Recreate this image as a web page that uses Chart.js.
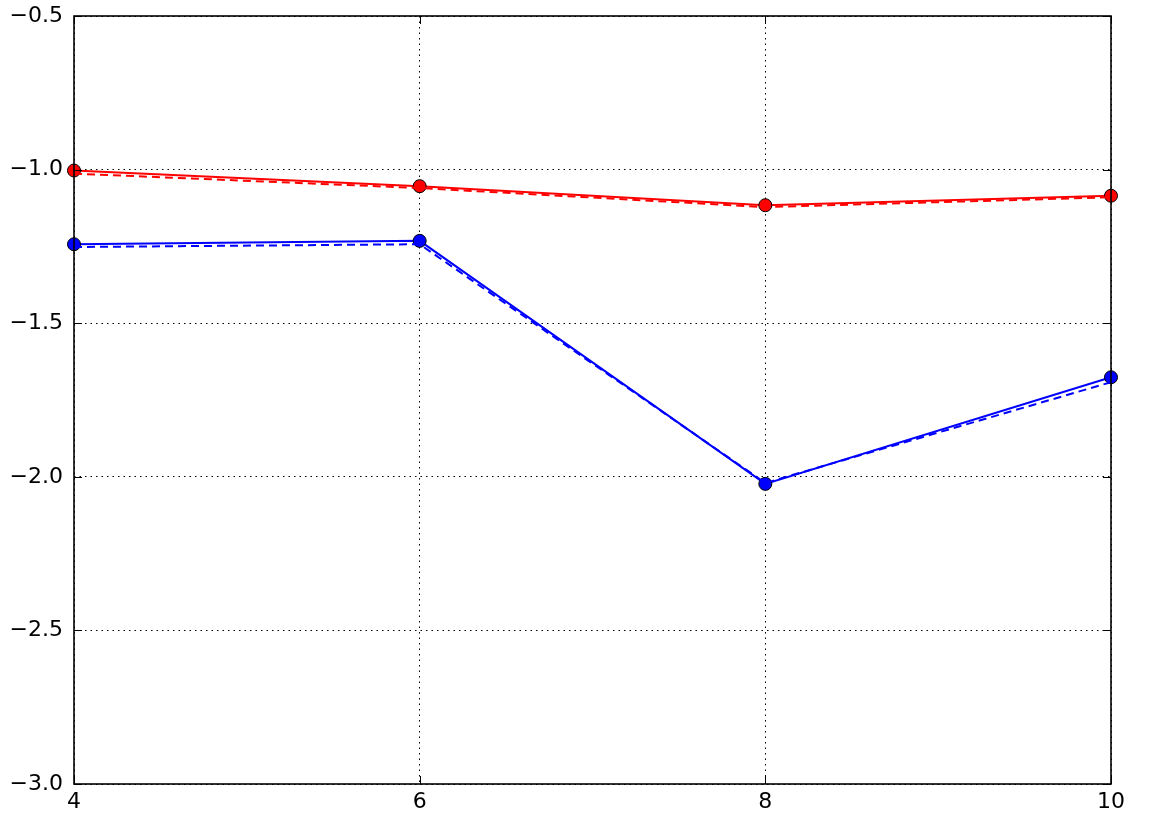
<!DOCTYPE html>
<html>
<head>
<meta charset="utf-8">
<script src="https://cdn.jsdelivr.net/npm/chart.js@4/dist/chart.umd.min.js"></script>
<style>
  html, body { margin: 0; padding: 0; background: #fff; }
  #chart { display: block; }
</style>
</head>
<body>
<canvas id="chart" width="1152" height="819"></canvas>
<script>
// Data
const xValues = [4, 6, 8, 10];
const redSolid = [-1.003, -1.054, -1.116, -1.085];
const redDashed = [-1.013, -1.060, -1.122, -1.090];
const blueSolid = [-1.243, -1.232, -2.023, -1.676];
const blueDashed = [-1.252, -1.243, -2.020, -1.692];
const xTicks = [4, 6, 8, 10];
const yTicks = [-3.0, -2.5, -2.0, -1.5, -1.0, -0.5];

function toPoints(ys) {
    return xValues.map((x, i) => ({ x: x, y: ys[i] }));
}

function minus(v) {
    return String(v).replace('-', '\u2212');
}

// Box around the plot and ticks pointing inward, like matplotlib classic
const frameAndTicks = {
    id: 'frameAndTicks',
    afterDraw(chart) {
        const ctx = chart.ctx;
        const a = chart.chartArea;
        const xs = chart.scales.x;
        const ys = chart.scales.y;
        const len = 8;
        ctx.save();
        ctx.strokeStyle = '#000';
        ctx.lineWidth = 1;
        ctx.beginPath();
        xTicks.forEach(t => {
            const px = Math.round(xs.getPixelForValue(t)) + 0.5;
            ctx.moveTo(px, a.bottom);
            ctx.lineTo(px, a.bottom - len);
            ctx.moveTo(px, a.top);
            ctx.lineTo(px, a.top + len);
        });
        yTicks.forEach(t => {
            const py = Math.round(ys.getPixelForValue(t)) + 0.5;
            ctx.moveTo(a.left, py);
            ctx.lineTo(a.left + len, py);
            ctx.moveTo(a.right, py);
            ctx.lineTo(a.right - len, py);
        });
        ctx.stroke();
        ctx.lineWidth = 1.6;
        ctx.strokeRect(a.left, a.top, a.right - a.left, a.bottom - a.top);
        ctx.restore();
    }
};

const gridStyle = {
    color: '#000',
    lineWidth: 1,
    drawTicks: false
};

const dotted = { display: false, dash: [1.5, 4] };

new Chart(document.getElementById('chart').getContext('2d'), {
    type: 'line',
    data: {
        datasets: [{
            label: 'red dashed',
            data: toPoints(redDashed),
            borderColor: '#ff0000',
            borderWidth: 2,
            borderDash: [8, 5],
            pointRadius: 0,
            fill: false
        }, {
            label: 'blue dashed',
            data: toPoints(blueDashed),
            borderColor: '#0000ff',
            borderWidth: 2,
            borderDash: [8, 5],
            pointRadius: 0,
            fill: false
        }, {
            label: 'red',
            data: toPoints(redSolid),
            borderColor: '#ff0000',
            borderWidth: 2,
            pointRadius: 6.5,
            pointBackgroundColor: '#ff0000',
            pointBorderColor: '#000',
            pointBorderWidth: 1,
            fill: false
        }, {
            label: 'blue',
            data: toPoints(blueSolid),
            borderColor: '#0000ff',
            borderWidth: 2,
            pointRadius: 6.5,
            pointBackgroundColor: '#0000ff',
            pointBorderColor: '#000',
            pointBorderWidth: 1,
            fill: false
        }]
    },
    options: {
        responsive: false,
        animation: false,
        clip: false,
        layout: { padding: { left: 0, right: 41, top: 16, bottom: 0 } },
        plugins: {
            legend: { display: false },
            tooltip: { enabled: false }
        },
        scales: {
            x: {
                type: 'linear',
                min: 4,
                max: 10,
                afterBuildTicks: (axis) => { axis.ticks = xTicks.map(v => ({ value: v })); },
                afterFit: (axis) => {
                    axis.height = 35;
                    axis.paddingLeft = 0;
                    axis.paddingRight = 0;
                },
                border: dotted,
                grid: gridStyle,
                ticks: {
                    color: '#000',
                    padding: 5,
                    maxRotation: 0,
                    font: { family: 'DejaVu Sans', size: 22 },
                    callback: (v) => minus(v)
                }
            },
            y: {
                type: 'linear',
                min: -3.0,
                max: -0.5,
                afterBuildTicks: (axis) => { axis.ticks = yTicks.map(v => ({ value: v })); },
                afterFit: (axis) => {
                    axis.width = 74;
                    axis.paddingTop = 0;
                    axis.paddingBottom = 0;
                },
                border: dotted,
                grid: gridStyle,
                ticks: {
                    color: '#000',
                    padding: 11,
                    font: { family: 'DejaVu Sans', size: 22 },
                    callback: (v) => minus(v.toFixed(1))
                }
            }
        }
    },
    plugins: [frameAndTicks]
});
</script>
</body>
</html>
